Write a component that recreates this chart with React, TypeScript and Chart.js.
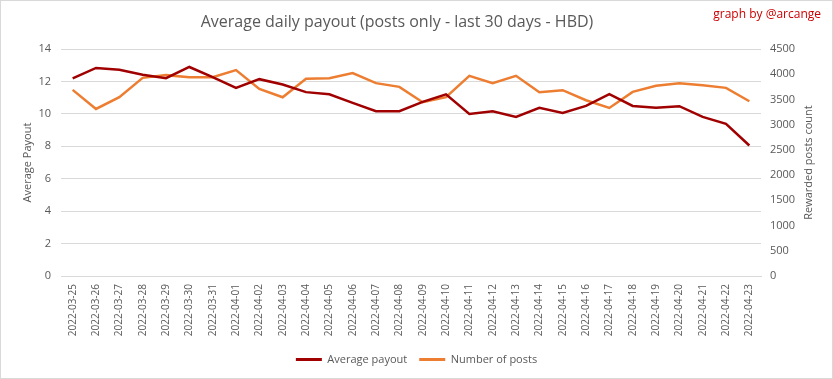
import React, { useEffect, useRef } from "react";
import { Chart, registerables } from "chart.js";

Chart.register(...registerables);

const dates = [
  "2022-03-25", "2022-03-26", "2022-03-27", "2022-03-28", "2022-03-29", "2022-03-30",
  "2022-03-31", "2022-04-01", "2022-04-02", "2022-04-03", "2022-04-04", "2022-04-05",
  "2022-04-06", "2022-04-07", "2022-04-08", "2022-04-09", "2022-04-10", "2022-04-11",
  "2022-04-12", "2022-04-13", "2022-04-14", "2022-04-15", "2022-04-16", "2022-04-17",
  "2022-04-18", "2022-04-19", "2022-04-20", "2022-04-21", "2022-04-22", "2022-04-23",
];

const averagePayout = [
  12.19, 12.83, 12.72, 12.41, 12.2, 12.89, 12.27, 11.6, 12.14, 11.81,
  11.34, 11.21, 10.68, 10.16, 10.16, 10.74, 11.2, 9.99, 10.16, 9.81,
  10.37, 10.06, 10.49, 11.21, 10.49, 10.37, 10.47, 9.81, 9.38, 8.05,
];

const numberOfPosts = [
  3690, 3311, 3544, 3928, 3982, 3942, 3942, 4082, 3709, 3544,
  3909, 3922, 4022, 3823, 3750, 3444, 3544, 3969, 3823, 3969,
  3643, 3683, 3484, 3331, 3650, 3770, 3823, 3783, 3730, 3464,
];

const titleText = "Average daily payout (posts only - last 30 days - HBD)";
const creditText = "graph by @arcange";
const leftAxisTitle = "Average Payout";
const rightAxisTitle = "Rewarded posts count";

const FONT = "'Open Sans', 'DejaVu Sans', sans-serif";
const GRAY = "#595959";
const GRID = "#d9d9d9";
const RED = "#a00000";
const ORANGE = "#ed7d31";

export default function App() {
  const ref = useRef<HTMLCanvasElement | null>(null);

  useEffect(() => {
    if (!ref.current) return;
    const decor = {
      id: "decor",
      beforeDraw(chart: any) {
        const ctx = chart.ctx;
        ctx.save();
        ctx.fillStyle = "#ffffff";
        ctx.fillRect(0, 0, chart.width, chart.height);
        ctx.strokeStyle = GRID;
        ctx.lineWidth = 1;
        ctx.strokeRect(0.5, 0.5, chart.width - 1, chart.height - 1);
        ctx.restore();
      },
      afterDraw(chart: any) {
        const ctx = chart.ctx;
        const area = chart.chartArea;
        ctx.save();
        ctx.fillStyle = GRAY;
        ctx.font = `16px ${FONT}`;
        ctx.textAlign = "center";
        ctx.textBaseline = "middle";
        ctx.fillText(titleText, 397, 22);
        ctx.fillStyle = "#cc0000";
        ctx.font = `12px ${FONT}`;
        ctx.textAlign = "right";
        ctx.fillText(creditText, 821, 15);
        // right axis title, reading bottom to top
        ctx.fillStyle = GRAY;
        ctx.font = `11px ${FONT}`;
        ctx.textAlign = "center";
        ctx.textBaseline = "middle";
        ctx.translate(809, (area.top + area.bottom) / 2);
        ctx.rotate(-Math.PI / 2);
        ctx.fillText(rightAxisTitle, 0, 0);
        ctx.restore();
      },
    };

    const chart = new Chart(ref.current, {
      type: "line",
      data: {
        labels: dates,
        datasets: [
          {
            label: "Average payout",
            data: averagePayout,
            borderColor: RED,
            backgroundColor: RED,
            borderWidth: 2.5,
            pointRadius: 0,
            tension: 0,
            yAxisID: "y",
          },
          {
            label: "Number of posts",
            data: numberOfPosts,
            borderColor: ORANGE,
            backgroundColor: ORANGE,
            borderWidth: 2.5,
            pointRadius: 0,
            tension: 0,
            yAxisID: "y1",
          },
        ],
      },
      options: {
        animation: false,
        responsive: false,
        devicePixelRatio: 1,
        layout: { padding: { top: 49, left: 0, right: 0, bottom: 4 } },
        plugins: {
          title: { display: false },
          tooltip: { enabled: false },
          legend: {
            position: "bottom",
            labels: {
              color: GRAY,
              font: { family: FONT, size: 11 },
              boxWidth: 26,
              boxHeight: 3,
              padding: 12,
              generateLabels(chart: any) {
                return chart.data.datasets.map((ds: any, i: number) => ({
                  text: ds.label,
                  fillStyle: ds.borderColor,
                  strokeStyle: ds.borderColor,
                  lineWidth: 0,
                  fontColor: GRAY,
                  hidden: false,
                  datasetIndex: i,
                }));
              },
            },
          },
        },
        scales: {
          x: {
            offset: true,
            grid: { display: false, drawTicks: false },
            border: { display: true, color: GRID },
            ticks: {
              color: GRAY,
              font: { family: FONT, size: 10 },
              minRotation: 90,
              maxRotation: 90,
              autoSkip: false,
              padding: 8,
            },
            afterFit(scale: any) {
              scale.height = 66;
            },
          },
          y: {
            position: "left",
            min: 0,
            max: 14,
            ticks: {
              stepSize: 2,
              color: GRAY,
              font: { family: FONT, size: 11 },
              padding: 10,
            },
            grid: { color: GRID, drawTicks: false },
            border: { display: false },
            title: {
              display: true,
              text: leftAxisTitle,
              color: GRAY,
              font: { family: FONT, size: 11 },
              padding: { top: 21, bottom: 0 },
            },
            afterFit(scale: any) {
              scale.width = 61;
            },
          },
          y1: {
            position: "right",
            min: 0,
            max: 4500,
            ticks: {
              stepSize: 500,
              color: GRAY,
              font: { family: FONT, size: 11 },
              padding: 9,
              callback: (v: any) => String(v),
            },
            grid: { drawOnChartArea: false, drawTicks: false },
            border: { display: false },
            afterFit(scale: any) {
              scale.width = 72;
            },
          },
        },
      },
      plugins: [decor],
    });
    return () => chart.destroy();
  }, []);

  return (
    <div style={{ position: "fixed", left: 0, top: 0, width: 833, height: 379 }}>
      <canvas ref={ref} width={833} height={379} style={{ width: 833, height: 379, display: "block" }} />
    </div>
  );
}
